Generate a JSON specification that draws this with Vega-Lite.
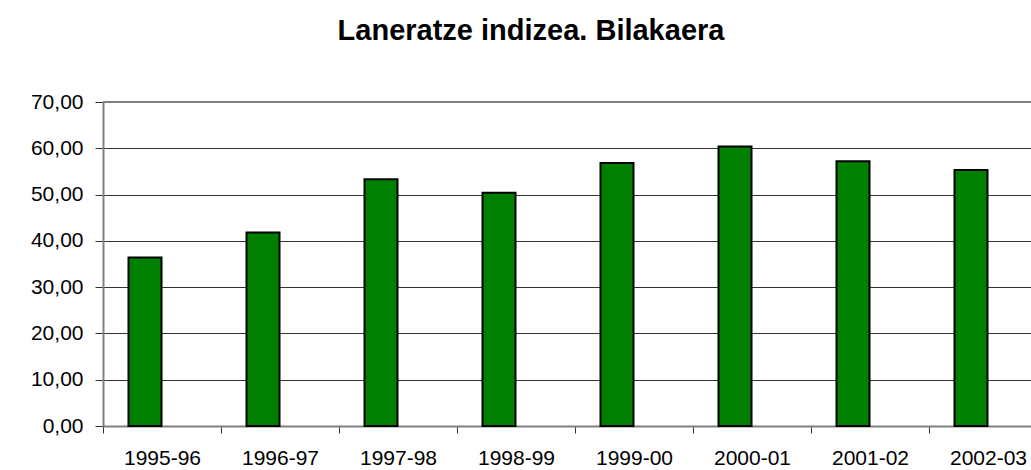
{
  "$schema": "https://vega.github.io/schema/vega-lite/v6.json",
  "width": 928,
  "height": 324,
  "autosize": {"type": "none"},
  "padding": {"left": 103, "top": 102, "right": 0, "bottom": 44},
  "background": "white",
  "title": {
    "text": "Laneratze indizea. Bilakaera",
    "font": "Liberation Sans",
    "fontSize": 29,
    "fontWeight": "bold",
    "color": "black",
    "anchor": "middle",
    "frame": "group",
    "baseline": "alphabetic",
    "dx": -36,
    "dy": -18
  },
  "config": {
    "view": {"stroke": null},
    "axis": {
      "labelFont": "Liberation Sans",
      "labelFontSize": 21,
      "labelColor": "black",
      "titleFont": "Liberation Sans"
    }
  },
  "data": {
    "values": [
      {"periodo": "1995-96", "balioa": 36.4},
      {"periodo": "1996-97", "balioa": 41.8},
      {"periodo": "1997-98", "balioa": 53.3},
      {"periodo": "1998-99", "balioa": 50.4},
      {"periodo": "1999-00", "balioa": 56.8},
      {"periodo": "2000-01", "balioa": 60.4},
      {"periodo": "2001-02", "balioa": 57.2},
      {"periodo": "2002-03", "balioa": 55.3}
    ]
  },
  "layer": [
    {
      "mark": {"type": "bar", "fill": "#008000", "stroke": "black", "strokeWidth": 2, "width": 33, "xOffset": -17},
      "encoding": {
        "x": {
          "field": "periodo",
          "type": "nominal",
          "sort": null,
          "scale": {"range": [0, 944], "paddingInner": 0, "paddingOuter": 0},
          "axis": {
            "title": null,
            "labelAngle": 0,
            "tickBand": "extent",
            "tickSize": 7,
            "tickColor": "#333333",
            "tickWidth": 1,
            "domainColor": "#808080",
            "domainWidth": 2,
            "labelPadding": 14,
            "grid": false
          }
        },
        "y": {
          "field": "balioa",
          "type": "quantitative",
          "scale": {"domain": [0, 70], "nice": false},
          "axis": {
            "title": null,
            "values": [0, 10, 20, 30, 40, 50, 60, 70],
            "labelExpr": "replace(format(datum.value, '.2f'), '.', ',')",
            "tickSize": 8,
            "tickColor": "#333333",
            "tickWidth": 1,
            "domainColor": "#808080",
            "domainWidth": 2,
            "labelPadding": 12,
            "grid": true,
            "gridColor": "#333333",
            "gridWidth": 1
          }
        }
      }
    },
    {
      "data": {"values": [{"balioa": 70}]},
      "mark": {"type": "rule", "stroke": "#808080", "strokeWidth": 2},
      "encoding": {
        "y": {"field": "balioa", "type": "quantitative"}
      }
    }
  ]
}
